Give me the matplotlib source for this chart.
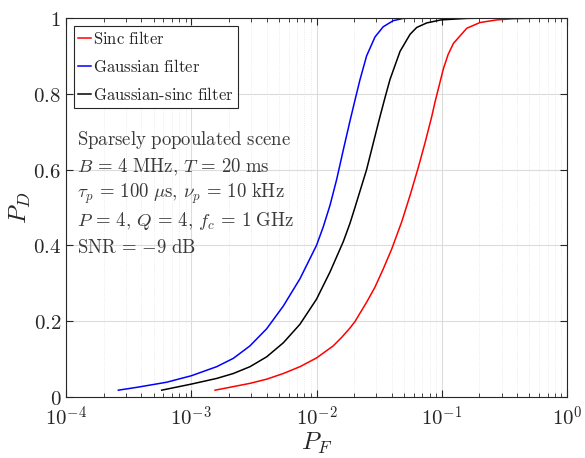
import numpy as np
import matplotlib
matplotlib.use("Agg")
import matplotlib.pyplot as plt
from matplotlib.ticker import FixedLocator, FixedFormatter, LogLocator, NullFormatter

# values: log10(P_F) and P_D
logpf_sinc = [-2.81, -2.531, -2.398, -2.265, -2.132, -2.0, -1.866, -1.8, -1.733,
              -1.693, -1.6, -1.533, -1.467, -1.4, -1.32, -1.253, -1.187, -1.134,
              -1.08, -1.054, -0.987, -0.95, -0.907, -0.8, -0.695, -0.561, -0.43,
              -0.2, -0.07]
pd_sinc = [0.018, 0.036, 0.047, 0.062, 0.080, 0.103, 0.135, 0.157, 0.182,
           0.199, 0.250, 0.290, 0.338, 0.390, 0.462, 0.532, 0.606, 0.670,
           0.740, 0.778, 0.866, 0.903, 0.933, 0.973, 0.988, 0.995, 0.998,
           1.0, 1.0]

logpf_gauss = [-3.582, -3.425, -3.196, -3.0, -2.797, -2.664, -2.531, -2.398, -2.265,
               -2.132, -2.0, -1.946, -1.892, -1.839, -1.786, -1.733, -1.693, -1.653,
               -1.6, -1.533, -1.467, -1.387, -1.307, -1.2, -1.014]
pd_gauss = [0.018, 0.026, 0.039, 0.056, 0.080, 0.102, 0.135, 0.180, 0.240,
            0.312, 0.400, 0.449, 0.506, 0.574, 0.652, 0.728, 0.783, 0.837,
            0.900, 0.950, 0.977, 0.993, 0.999, 1.0, 1.0]

logpf_gsinc = [-3.236, -3.0, -2.797, -2.664, -2.531, -2.398, -2.265, -2.132, -2.0,
               -1.892, -1.786, -1.733, -1.693, -1.6, -1.533, -1.493, -1.453, -1.413,
               -1.333, -1.253, -1.2, -1.12, -1.006, -0.8, -0.6, -0.39]
pd_gsinc = [0.018, 0.034, 0.049, 0.062, 0.080, 0.106, 0.143, 0.192, 0.258,
            0.330, 0.410, 0.458, 0.500, 0.600, 0.688, 0.740, 0.790, 0.838,
            0.912, 0.957, 0.975, 0.987, 0.995, 0.999, 1.0, 1.0]

labels = [r"$\mathrm{Sinc\ filter}$", r"$\mathrm{Gaussian\ filter}$",
          r"$\mathrm{Gaussian\text{-}sinc\ filter}$"]

note_lines = [
    r"$\mathrm{Sparsely\ popoulated\ scene}$",
    r"$B\,=\,4\ \mathrm{MHz},\,T\,=\,20\ \mathrm{ms}$",
    r"$\tau_p\,=\,100\ \mu\mathrm{s},\,\nu_p\,=\,10\ \mathrm{kHz}$",
    r"$P\,=\,4,\,Q\,=\,4,\,f_c\,=\,1\ \mathrm{GHz}$",
    r"$\mathrm{SNR}\,=\,{-}9\ \mathrm{dB}$",
]

xticks = [1e-4, 1e-3, 1e-2, 1e-1, 1e0]
xticklabels = [r"$10^{-4}$", r"$10^{-3}$", r"$10^{-2}$", r"$10^{-1}$", r"$10^{0}$"]
yticks = [0, 0.2, 0.4, 0.6, 0.8, 1.0]
yticklabels = [r"$0$", r"$0.2$", r"$0.4$", r"$0.6$", r"$0.8$", r"$1$"]

plt.rcParams["mathtext.fontset"] = "cm"
txt_col = "#262626"

fig = plt.figure(figsize=(5.85, 4.58), dpi=100)
ax = fig.add_axes([66 / 585, 61 / 458, 501 / 585, 379 / 458])

ax.plot(np.power(10.0, logpf_sinc), pd_sinc, color="red", lw=1.1, label=labels[0])
ax.plot(np.power(10.0, logpf_gauss), pd_gauss, color="blue", lw=1.1, label=labels[1])
ax.plot(np.power(10.0, logpf_gsinc), pd_gsinc, color="black", lw=1.1, label=labels[2])

ax.set_xscale("log")
ax.set_xlim(1e-4, 1)
ax.set_ylim(0, 1)
ax.xaxis.set_major_locator(FixedLocator(xticks))
ax.xaxis.set_major_formatter(FixedFormatter(xticklabels))
ax.xaxis.set_minor_locator(LogLocator(base=10, subs=np.arange(2, 10)))
ax.xaxis.set_minor_formatter(NullFormatter())
ax.yaxis.set_major_locator(FixedLocator(yticks))
ax.yaxis.set_major_formatter(FixedFormatter(yticklabels))

ax.grid(True, which="major", color="#dcdcdc", lw=0.8)
ax.grid(True, which="minor", axis="x", color="#e6e6e6", lw=0.6, ls=":")
ax.set_axisbelow(True)

ax.tick_params(which="both", direction="in", top=True, right=True,
               labelsize=15, colors=txt_col, labelcolor=txt_col)
ax.tick_params(which="major", length=5, width=0.8)
ax.tick_params(which="minor", length=3, width=0.6)
ax.tick_params(axis="x", pad=6)
for s in ax.spines.values():
    s.set_color(txt_col)
    s.set_linewidth(0.8)

ax.set_xlabel(r"$P_F$", fontsize=18, color=txt_col)
ax.set_ylabel(r"$P_D$", fontsize=18, color=txt_col)
ax.xaxis.set_label_coords(0.5, -0.088)
ax.yaxis.set_label_coords(-0.066, 0.5)

leg = ax.legend(loc="upper left", bbox_to_anchor=(8 / 501, 1 - 8 / 379),
                fontsize=12, handlelength=0.75, handletextpad=0.15,
                labelspacing=0.6, borderpad=0.25, borderaxespad=0,
                fancybox=False, framealpha=1, edgecolor="#262626")
leg.get_frame().set_linewidth(0.8)
for t in leg.get_texts():
    t.set_color(txt_col)

y0 = 0.678
for i, line in enumerate(note_lines):
    ax.text(0.021, y0 - i * 0.0712, line, transform=ax.transAxes, fontsize=13.5,
            color="#3a3a3a", va="center", ha="left")

fig.savefig("out.png", dpi=100)
